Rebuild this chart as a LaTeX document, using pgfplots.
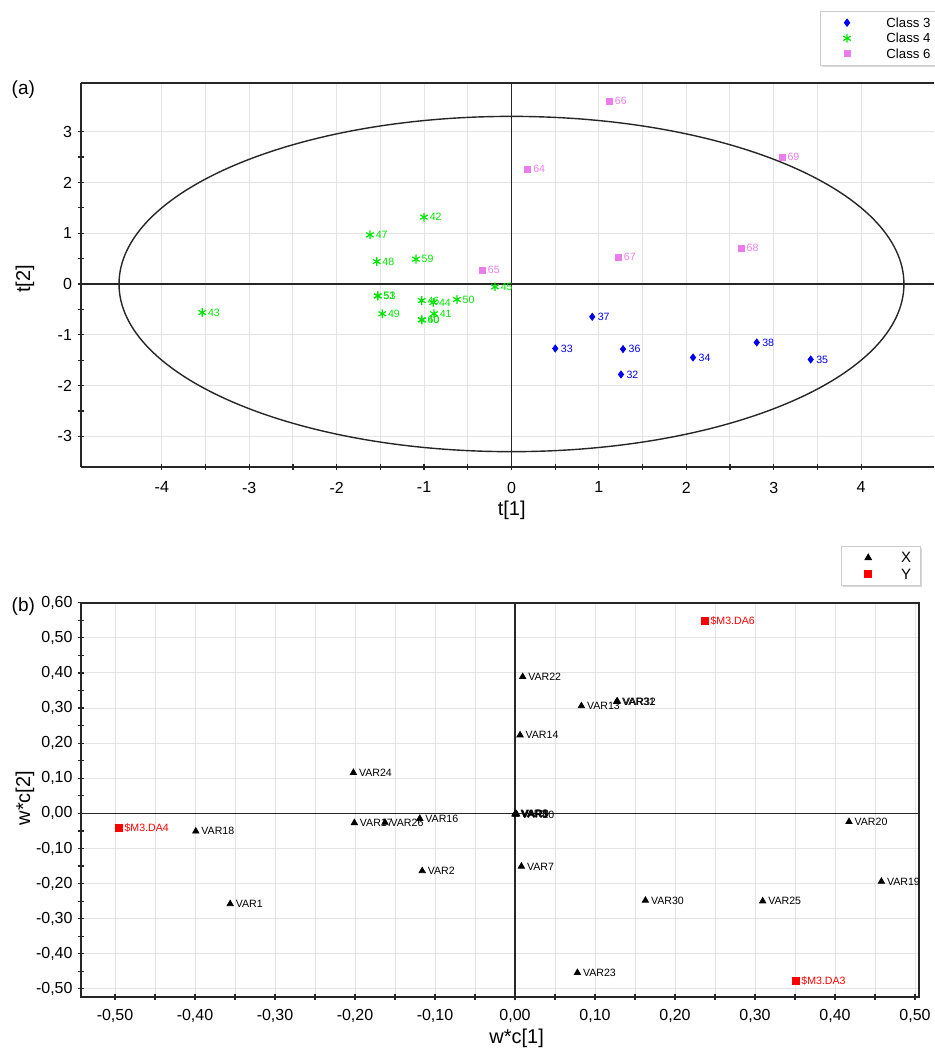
\documentclass[border=0pt]{standalone}
\usepackage{fontspec}
\setmainfont{Liberation Sans}
\usepackage{pgfplots}
\pgfplotsset{compat=1.18}
\usetikzlibrary{shadows}
\definecolor{cthree}{RGB}{0,0,240}
\definecolor{cfour}{RGB}{0,230,0}
\definecolor{csix}{RGB}{235,125,235}
\definecolor{gridgray}{RGB}{228,228,228}
\definecolor{dared}{RGB}{255,0,0}
\tikzset{lbl/.style={anchor=west, inner sep=0pt, xshift=2.6pt, font=\fontsize{5.3}{6}\selectfont}}
\pgfplotsset{
 limg/.style={legend image code/.code={\path[draw=none,fill=none] (0pt,0pt) (29pt,0pt); \draw[mark repeat=2,mark phase=2,##1,only marks] plot coordinates {(0pt,0pt) (11.5pt,0pt) (23pt,0pt)};}},
 limgb/.style={legend image code/.code={\path[draw=none,fill=none] (0pt,0pt) (25.5pt,0pt); \draw[mark repeat=2,mark phase=2,##1,only marks] plot coordinates {(0pt,0pt) (11.5pt,0pt) (23pt,0pt)};}},
 panel/.style={
  scale only axis,
  axis line style={black!85, line width=0.9pt},
  tick align=center, tick pos=left,
  major tick length=3pt, minor tick length=3pt,
  tick style={black!85, line width=0.6pt},
  xmajorgrids, xminorgrids, ymajorgrids,
  major grid style={gridgray, line width=0.5pt},
  minor grid style={gridgray, line width=0.5pt},
  minor x tick num=1, minor y tick num=1,
  ticklabel style={font=\fontsize{8}{9.6}\selectfont},
  /pgf/number format/assume math mode=true,
  extra x ticks={0}, extra y ticks={0}, extra x tick labels={}, extra y tick labels={},
  extra tick style={grid=major, major grid style={black!85, line width=0.6pt}},
  label style={font=\fontsize{9}{10.8}\selectfont},
 }
}
\begin{document}
\begin{tikzpicture}
\path[use as bounding box] (0,0) rectangle (467pt,-524pt);
\node[font=\fontsize{9.5}{11}\selectfont] at (11.67pt,-45pt) {(a)};
\node[font=\fontsize{9.5}{11}\selectfont] at (11.67pt,-303.2pt) {(b)};
% ---------------- panel (a)
\begin{axis}[panel,
  at={(40.5pt,-41.35pt)}, anchor=north west,
  width=426.5pt, height=192.15pt,
  xmin=-4.925, xmax=4.834, ymin=-3.602, ymax=3.963,
  xtick={-4,-3,-2,-1,0,1,2,3,4}, ytick={-3,-2,-1,0,1,2,3},
  axis x line*=box, axis y line*=left, y axis line style={-},
  tick align=center,
  xticklabel style={yshift=-2.4pt}, yticklabel style={xshift=0.5pt},
  xlabel={t[1]}, ylabel={t[2]},
  every axis x label/.style={at={(axis description cs:0.505,-0.112)}, anchor=center},
  every axis y label/.style={at={(axis description cs:-0.0657,0.489)}, rotate=90, anchor=center},
  legend style={at={(1.0063,1.0442)}, anchor=south east, draw=gray!40, line width=0.5pt, fill=white,
    drop shadow={shadow xshift=0.8pt, shadow yshift=-0.8pt, fill=gray!60},
    font=\fontsize{6.6}{7.9}\selectfont, inner xsep=2pt, inner ysep=2.4pt, row sep=1.3pt,
    nodes={inner xsep=2.2pt, inner ysep=0.5pt, text height=4.9pt, text depth=0.6pt},
    /tikz/every even column/.append style={column sep=6.7pt}},
  legend cell align=right,
]
\draw[black!85, line width=0.7pt] (axis cs:0,0) ellipse [x radius=4.49, y radius=3.3];
\addplot[only marks, limg, mark=diamond*, mark size=1.75pt, color=cthree,
  nodes near coords, point meta=explicit symbolic,
  nodes near coords style={lbl, text=cthree}] coordinates {
  (1.253,-1.780) [32]
  (0.501,-1.269) [33]
  (2.077,-1.446) [34]
  (3.423,-1.485) [35]
  (1.276,-1.281) [36]
  (0.924,-0.645) [37]
  (2.806,-1.151) [38]
};
\addlegendentry{Class 3}
\addplot[only marks, limg, mark=asterisk, mark size=2.2pt, color=cfour, line width=0.6pt,
  nodes near coords, point meta=explicit symbolic,
  nodes near coords style={lbl, text=cfour}] coordinates {
  (-0.887,-0.586) [41]
  (-1.001,1.316) [42]
  (-3.538,-0.561) [43]
  (-0.895,-0.364) [44]
  (-0.189,-0.055) [45]
  (-1.027,-0.325) [46]
  (-1.619,0.968) [47]
  (-1.542,0.443) [48]
  (-1.478,-0.586) [49]
  (-0.624,-0.305) [50]
  (-1.531,-0.232) [51]
  (-1.529,-0.236) [53]
  (-1.093,0.490) [59]
  (-1.027,-0.704) [40]
  (-1.025,-0.708) [60]
};
\addlegendentry{Class 4}
\addplot[only marks, limg, mark=square*, mark size=1.5pt, color=csix,
  nodes near coords, point meta=explicit symbolic,
  nodes near coords style={lbl, text=csix}] coordinates {
  (0.185,2.260) [64]
  (-0.334,0.273) [65]
  (1.119,3.604) [66]
  (1.222,0.529) [67]
  (2.626,0.706) [68]
  (3.095,2.502) [69]
};
\addlegendentry{Class 6}
\end{axis}
% ---------------- panel (b)
\begin{axis}[panel,
  at={(40.5pt,-301.35pt)}, anchor=north west,
  width=419.15pt, height=197.3pt,
  xmin=-0.5425, xmax=0.5054, ymin=-0.524, ymax=0.60,
  xtick={-0.5,-0.4,-0.3,-0.2,-0.1,0,0.1,0.2,0.3,0.4,0.5},
  ytick={-0.5,-0.4,-0.3,-0.2,-0.1,0,0.1,0.2,0.3,0.4,0.5,0.6},
  /pgf/number format/fixed, /pgf/number format/fixed zerofill,
  /pgf/number format/precision=2, /pgf/number format/use comma,
  xticklabel style={yshift=-1pt}, yticklabel style={xshift=0.8pt},
  xlabel={w*c[1]}, ylabel={w*c[2]},
  every axis x label/.style={at={(axis description cs:0.5197,-0.103)}, anchor=center},
  every axis y label/.style={at={(axis description cs:-0.0668,0.505)}, rotate=90, anchor=center},
  legend style={at={(1.0017,1.0423)}, anchor=south east, draw=gray!40, line width=0.5pt, fill=white,
    drop shadow={shadow xshift=0.8pt, shadow yshift=-0.8pt, fill=gray!60},
    font=\fontsize{7.5}{9}\selectfont, inner xsep=2pt, inner ysep=2.3pt, row sep=1.5pt,
    nodes={inner xsep=2.5pt, inner ysep=0.5pt, text height=5.4pt, text depth=0.3pt},
    /tikz/every even column/.append style={column sep=5.5pt}},
  legend cell align=right,
]
\addplot[only marks, limgb, mark=triangle*, mark size=1.8pt, color=black,
  nodes near coords, point meta=explicit symbolic,
  nodes near coords style={lbl, text=black}] coordinates {
  (-0.356,-0.258) [VAR1]
  (-0.116,-0.164) [VAR2]
  (0.000,-0.002) [VAR3]
  (0.001,-0.001) [VAR8]
  (0.002,-0.002) [VAR9]
  (0.001,-0.003) [VAR10]
  (0.008,-0.151) [VAR7]
  (0.083,0.306) [VAR13]
  (0.0063,0.223) [VAR14]
  (-0.119,-0.015) [VAR16]
  (-0.2008,-0.027) [VAR17]
  (-0.399,-0.051) [VAR18]
  (0.458,-0.194) [VAR19]
  (0.4175,-0.024) [VAR20]
  (0.0096,0.389) [VAR22]
  (0.078,-0.454) [VAR23]
  (-0.202,0.116) [VAR24]
  (0.3096,-0.250) [VAR25]
  (-0.1625,-0.026) [VAR26]
  (0.163,-0.248) [VAR30]
  (0.127,0.318) [VAR31]
  (0.128,0.319) [VAR32]
};
\addlegendentry{X}
\addplot[only marks, limgb, mark=square*, mark size=1.75pt, color=dared,
  nodes near coords, point meta=explicit symbolic,
  nodes near coords style={lbl, text=dared}] coordinates {
  (-0.495,-0.042) [\$M3.DA4]
  (0.2375,0.549) [\$M3.DA6]
  (0.351,-0.476) [\$M3.DA3]
};
\addlegendentry{Y}
\end{axis}
\end{tikzpicture}
\end{document}
